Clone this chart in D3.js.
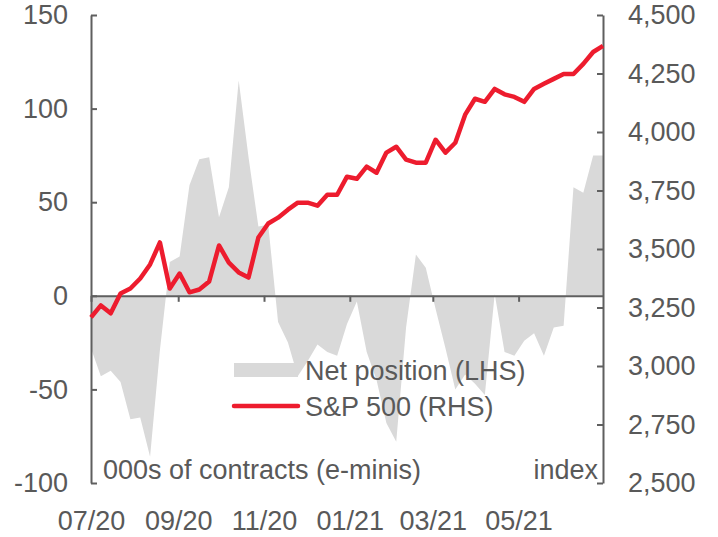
<!DOCTYPE html>
<meta charset="utf-8">
<style>
	body { margin: 0; background: #fff; }
	svg { display: block; font-family: "Liberation Sans", Arial, sans-serif; }
	.axis text { fill: #595959; font-size: 27px; }
	.axis path, .axis line { stroke: #5f5f5f; stroke-width: 2; }
	.lbl { fill: #595959; font-size: 27px; }
</style>
<svg width="718" height="537"></svg>
<script src="https://d3js.org/d3.v7.min.js"></script>
<script>
	// weekly observations, Jul 2020 - Jun 2021
	var startDate = new Date(2020, 6, 1);
	var netPosition = [-28, -43, -40, -46, -66, -65, -86, -29, 18, 21,
		59, 73, 74, 42, 58, 115, 74, 37, 38, -14,
		-25, -43, -35, -26, -30, -32, -15, -3, -30, -45,
		-68, -78, -17, 22, 15, -7, -28, -50, -42, -47,
		-53, 1, -30, -32, -24, -20, -32, -17, -16, 58,
		55, 75, 75];
	var sp500 = [3208, 3259, 3225, 3310, 3331, 3374, 3434, 3528, 3331, 3395,
		3315, 3327, 3361, 3515, 3442, 3400, 3378, 3549, 3609, 3634,
		3668, 3698, 3698, 3685, 3732, 3732, 3809, 3800, 3852, 3826,
		3912, 3937, 3882, 3869, 3869, 3967, 3912, 3954, 4074, 4142,
		4129, 4184, 4161, 4150, 4129, 4184, 4206, 4227, 4248, 4248,
		4291, 4342, 4368];
	var leftTicks = [-100, -50, 0, 50, 100, 150];
	var rightTicks = [2500, 2750, 3000, 3250, 3500, 3750, 4000, 4250, 4500];

	var dates = sp500.map(function(d, i){ return d3.timeDay.offset(startDate, i * 7); });

	var svg = d3.select("svg"),
		x0 = 91, x1 = 603, yTop = 15, yBottom = 483;

	var x = d3.scaleTime().domain(d3.extent(dates)).range([x0, x1]);
	var yL = d3.scaleLinear().domain([-100, 150]).range([yBottom, yTop]);
	var yR = d3.scaleLinear().domain([2500, 4500]).range([yBottom, yTop]);

	var area = d3.area()
		.x(function(d, i){ return x(dates[i]); })
		.y0(yL(0))
		.y1(function(d){ return yL(d); });

	svg.append("path").datum(netPosition)
		.attr("fill", "#d9d9d9")
		.attr("d", area);

	// legend swatch for the area
	svg.append("rect").attr("x", 234).attr("y", 363).attr("width", 64).attr("height", 14).attr("fill", "#d9d9d9");

	svg.append("g").attr("class", "axis")
		.attr("transform", "translate(" + x0 + ",0)")
		.call(d3.axisLeft(yL).tickValues(leftTicks).tickSize(-6).tickSizeOuter(0).tickPadding(23)
			.tickFormat(function(d){ return String(d); }));

	svg.append("g").attr("class", "axis")
		.attr("transform", "translate(" + x1 + ",0)")
		.call(d3.axisRight(yR).tickValues(rightTicks).tickSize(-6).tickSizeOuter(0).tickPadding(25).tickFormat(d3.format(",")));

	var monthTicks = d3.timeMonth.every(2).range(new Date(2020, 6, 1), new Date(2021, 6, 1));
	svg.append("g").attr("class", "axis")
		.attr("transform", "translate(0," + yL(0) + ")")
		.call(d3.axisBottom(x).tickValues(monthTicks).tickSize(6).tickSizeOuter(0).tickPadding(209).tickFormat(d3.timeFormat("%m/%y")));

	var line = d3.line()
		.x(function(d, i){ return x(dates[i]); })
		.y(function(d){ return yR(d); });

	svg.append("path").datum(sp500)
		.attr("fill", "none")
		.attr("stroke", "#ed1c2e")
		.attr("stroke-width", 4.5)
		.attr("stroke-linejoin", "round")
		.attr("d", line);

	// legend
	svg.append("line").attr("x1", 234).attr("x2", 298).attr("y1", 406).attr("y2", 406)
		.attr("stroke", "#ed1c2e").attr("stroke-width", 4.5).attr("stroke-linecap", "round");
	svg.append("text").attr("class", "lbl").attr("x", 305).attr("y", 380).text("Net position (LHS)");
	svg.append("text").attr("class", "lbl").attr("x", 305).attr("y", 416).text("S&P 500 (RHS)");

	svg.append("text").attr("class", "lbl").attr("x", 103).attr("y", 479).text("000s of contracts (e-minis)");
	svg.append("text").attr("class", "lbl").attr("x", 598).attr("y", 479).attr("text-anchor", "end").text("index");
</script>
